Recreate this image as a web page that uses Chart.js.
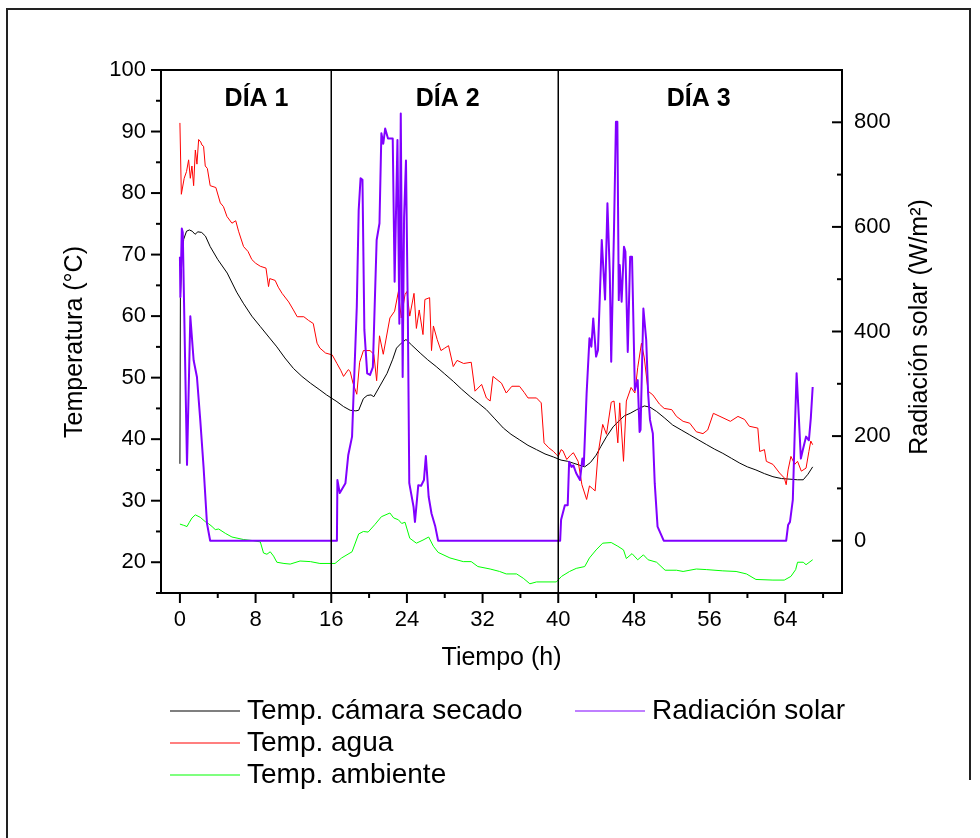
<!DOCTYPE html>
<html>
<head>
<meta charset="utf-8">
<script src="https://cdn.jsdelivr.net/npm/chart.js@4.4.0/dist/chart.umd.min.js"></script>
<style>
  html, body { margin: 0; padding: 0; background: #fff; }
  canvas { display: block; }
</style>
</head>
<body>
<canvas id="secadoChart" width="980" height="838"></canvas>
<script>
// [tiempo (h), valor]
const camaraSecado = [[0,36.0],[0.05,63],[0.2,69],[0.4,72.5],[0.7,73.8],[1.0,74.0],[1.3,73.8],[1.6,73.3],[1.9,73.7],[2.3,73.6],[2.7,73.0],[3.2,71.3],[4.0,69.2],[5.0,67.0],[6.0,63.9],[6.7,62.1],[7.6,60.0],[8.5,58.3],[9.4,56.6],[10.25,55.0],[11.1,53.2],[12.0,51.5],[12.9,50.2],[13.8,49.1],[14.8,48.0],[15.5,47.2],[16.6,46.1],[17.3,45.3],[18.0,44.7],[18.6,44.6],[18.9,44.7],[19.4,46.6],[19.8,47.1],[20.2,47.2],[20.5,46.9],[21.2,48.8],[21.9,50.7],[22.5,53.0],[22.9,54.8],[23.4,55.6],[23.9,56.2],[24.5,55.3],[25.4,54.0],[26.2,52.9],[27.1,51.8],[28.0,50.6],[28.9,49.4],[29.8,48.1],[30.7,46.9],[31.6,45.8],[32.4,44.8],[33.3,43.3],[34.2,41.8],[35.0,40.8],[35.9,39.9],[36.8,39.0],[37.7,38.3],[38.6,37.6],[39.5,37.1],[40.3,36.6],[41.0,36.4],[41.6,36.1],[42.2,35.8],[42.8,35.5],[43.4,36.2],[44.0,37.4],[44.5,38.8],[45.1,40.4],[45.8,42.0],[46.5,43.1],[47.0,43.8],[47.6,44.2],[48.3,44.8],[49.1,45.4],[49.7,45.2],[50.4,44.5],[51.2,43.5],[52.1,42.3],[53.0,41.5],[53.9,40.7],[54.8,39.9],[55.7,39.1],[56.5,38.4],[57.4,37.7],[58.3,36.9],[59.2,36.1],[60.0,35.5],[60.9,35.0],[61.8,34.4],[62.7,33.9],[63.6,33.6],[64.5,33.5],[65.3,33.4],[65.9,33.4],[66.4,34.3],[66.9,35.5]];

const tempAgua = [[0,91.4],[0.15,79.8],[0.45,82.4],[0.7,83.5],[0.92,85.4],[1.1,82.4],[1.27,84.4],[1.45,81.2],[1.63,87.0],[1.8,84.7],[1.98,88.7],[2.2,88.3],[2.33,87.8],[2.5,87.6],[2.68,84.4],[2.9,84.0],[3.2,81.2],[3.8,80.9],[4.27,78.4],[4.6,77.8],[4.97,76.2],[5.5,75.1],[5.9,75.5],[6.2,73.8],[6.73,71.3],[7.2,70.5],[7.6,69.2],[8.0,68.6],[8.5,68.1],[9.1,67.8],[9.37,64.8],[9.5,66.1],[10.07,65.8],[10.4,64.7],[10.8,63.7],[11.5,62.3],[12.0,61.0],[12.4,59.9],[13.1,59.9],[13.6,59.3],[14.1,58.8],[14.5,55.6],[14.8,54.8],[15.4,54.0],[16.1,53.7],[16.6,52.3],[17.0,51.2],[17.3,50.2],[17.8,51.3],[18.0,51.0],[18.3,49.1],[18.7,47.3],[19.0,52.5],[19.4,54.4],[20.1,54.4],[20.5,53.8],[20.8,49.5],[21.1,56.8],[21.5,53.8],[22.2,59.7],[22.7,60.8],[23.1,64.0],[23.4,59.7],[23.8,63.5],[24.0,64.0],[24.3,60.0],[24.75,63.7],[25.0,58.0],[25.3,61.0],[25.7,57.0],[25.9,62.7],[26.4,63.0],[26.6,54.4],[26.8,58.4],[27.2,56.2],[27.6,54.4],[28.0,54.8],[28.4,55.2],[28.9,51.8],[29.3,52.8],[30.0,52.3],[30.8,52.5],[31.2,47.8],[31.9,48.9],[32.4,46.7],[32.8,46.2],[33.1,50.2],[34.0,49.1],[34.5,47.5],[35.1,48.6],[35.9,48.6],[36.4,47.6],[36.8,46.7],[37.7,46.7],[38.2,45.9],[38.5,39.4],[39.0,38.6],[39.5,38.0],[39.8,37.5],[40.0,37.2],[40.3,38.3],[40.5,38.1],[40.9,36.7],[41.3,37.4],[41.6,37.8],[42.1,36.4],[42.5,32.6],[43.0,30.2],[43.3,32.4],[43.6,32.0],[43.9,31.6],[44.2,37.5],[44.7,42.4],[45.1,40.8],[45.6,46.0],[45.9,46.2],[46.3,39.4],[46.5,45.9],[46.9,36.4],[47.2,46.2],[47.7,48.4],[48.1,47.5],[48.4,51.6],[48.8,55.6],[49.1,53.2],[49.5,47.8],[50.0,47.2],[50.7,45.7],[51.2,45.0],[52.0,44.8],[52.5,43.7],[53.2,42.9],[53.9,42.6],[54.6,41.2],[55.3,40.9],[55.8,41.5],[56.4,44.2],[57.1,43.7],[58.2,42.9],[59.0,43.7],[59.7,43.2],[60.2,42.1],[61.1,41.8],[61.3,38.0],[61.8,38.3],[62.0,36.4],[62.7,35.9],[63.4,34.5],[63.9,33.7],[64.1,32.6],[64.3,35.0],[64.6,37.2],[65.0,35.9],[65.3,36.4],[65.7,34.8],[66.2,35.3],[66.5,38.0],[66.7,39.7],[66.9,39.1]];

const tempAmbiente = [[0,26.2],[0.4,26.0],[0.75,25.8],[1.0,26.5],[1.28,27.2],[1.63,27.7],[2.15,27.3],[2.68,26.6],[3.0,26.3],[3.4,25.8],[3.74,25.3],[4.1,25.4],[4.8,24.7],[5.5,24.1],[6.7,23.7],[7.8,23.5],[8.5,23.3],[8.84,21.5],[9.2,21.3],[9.55,21.7],[9.9,21.0],[10.25,20.0],[11.0,19.8],[11.66,19.7],[12.7,20.2],[13.8,20.1],[14.8,19.8],[16.4,19.8],[17.1,20.7],[18.2,21.7],[18.9,24.6],[19.4,25.0],[19.9,24.9],[20.6,26.1],[21.3,27.4],[22.2,28.0],[22.6,27.2],[23.1,26.9],[23.45,26.3],[23.8,26.5],[24.3,23.9],[25.0,23.1],[25.7,23.6],[26.3,24.1],[26.8,22.6],[27.3,21.6],[28.55,20.7],[29.96,20.1],[30.8,20.1],[31.5,19.3],[32.8,18.9],[33.8,18.5],[34.5,18.1],[35.6,18.1],[36.3,17.4],[37.0,16.5],[37.7,16.8],[39.8,16.8],[40.35,17.7],[41.2,18.5],[41.9,19.0],[42.8,19.3],[43.3,20.7],[44.0,22.0],[44.7,23.1],[45.6,23.2],[46.3,22.6],[46.9,22.0],[47.2,20.6],[47.8,21.4],[48.4,20.4],[49.0,21.2],[49.5,20.4],[50.4,20.0],[51.3,18.7],[52.5,18.7],[53.2,18.5],[54.6,18.9],[55.7,18.8],[57.4,18.6],[58.8,18.5],[59.9,18.1],[60.9,17.2],[62.7,17.1],[63.9,17.1],[64.6,17.7],[65.1,18.8],[65.3,20.0],[65.9,20.0],[66.2,19.6],[66.9,20.4]];

const radiacionSolar = [[0,543],[0.05,466],[0.2,597],[0.3,590],[0.75,145],[1.1,429],[1.45,345],[1.8,313],[2.15,231],[2.5,141],[2.86,33],[3.2,0],[16.6,0],[16.65,116],[16.9,91],[17.5,110],[17.8,164],[18.2,199],[18.3,250],[18.7,447],[18.9,632],[19.1,693],[19.3,690],[19.5,403],[19.8,320],[20.1,317],[20.4,332],[20.8,575],[21.1,607],[21.3,779],[21.5,759],[21.7,788],[22.0,769],[22.5,769],[22.7,495],[23.0,766],[23.2,415],[23.35,817],[23.55,313],[23.7,619],[23.9,727],[24.1,428],[24.25,110],[24.7,65],[24.85,36],[25.2,106],[25.5,105],[25.8,116],[26.0,162],[26.3,84],[26.6,52],[27.0,27],[27.3,0],[40.2,0],[40.3,40],[40.7,68],[41.0,68],[41.15,151],[41.4,141],[41.6,144],[41.9,129],[42.3,116],[42.55,157],[42.7,144],[43.0,282],[43.3,387],[43.5,371],[43.7,425],[44.0,352],[44.2,364],[44.6,575],[44.95,461],[45.2,645],[45.45,511],[45.6,342],[45.9,600],[46.1,801],[46.25,801],[46.4,460],[46.5,527],[46.7,457],[46.95,562],[47.1,553],[47.35,361],[47.6,543],[47.8,543],[48.1,288],[48.4,307],[48.6,208],[48.7,212],[49.0,444],[49.3,384],[49.5,282],[49.7,231],[50.0,205],[50.2,110],[50.5,27],[51.15,0],[64.1,0],[64.3,30],[64.5,36],[64.8,78],[65.0,205],[65.2,320],[65.45,231],[65.65,157],[65.85,173],[66.2,199],[66.5,192],[66.7,234],[66.9,294]];

const tiempoTicks = [0, 8, 16, 24, 32, 40, 48, 56, 64];
const tempTicks = [20, 30, 40, 50, 60, 70, 80, 90, 100];
const radTicks = [0, 200, 400, 600, 800];
const limitesDia = [16, 40];
const etiquetasDia = ['DÍA 1', 'DÍA 2', 'DÍA 3'];

const FONT = "'Liberation Sans', Arial, sans-serif";
Chart.defaults.font.family = FONT;
Chart.defaults.color = '#000';

const toPoints = arr => arr.map(([h, v]) => ({ x: h, y: v }));

// axes box, ticks, day markers, side titles and legend drawn by hand
const extras = {
    id: 'extras',
    afterDraw(chart) {
        const { ctx, chartArea: a, scales: { x, y, y2 } } = chart;
        const line = (x1, y1, x2, y2_) => { ctx.beginPath(); ctx.moveTo(x1, y1); ctx.lineTo(x2, y2_); ctx.stroke(); };
        ctx.save();
        ctx.strokeStyle = '#000';

        // day separators
        ctx.lineWidth = 1.5;
        limitesDia.forEach(h => {
            const px = x.getPixelForValue(h);
            line(px, a.top, px, a.bottom);
        });

        // frame of the plot
        ctx.lineWidth = 2;
        ctx.strokeRect(a.left, a.top, a.right - a.left, a.bottom - a.top);

        // bottom ticks (outside)
        tiempoTicks.forEach(v => {
            const px = x.getPixelForValue(v);
            line(px, a.bottom, px, a.bottom + 10);
            const pm = x.getPixelForValue(v + 4);
            if (v + 4 < x.max) line(pm, a.bottom, pm, a.bottom + 5);
        });
        // left ticks (outside)
        tempTicks.forEach(v => {
            const py = y.getPixelForValue(v);
            line(a.left - 10, py, a.left, py);
            const pm = y.getPixelForValue(v - 5);
            line(a.left - 5, pm, a.left, pm);
        });
        // right ticks (inside)
        radTicks.forEach(v => {
            const py = y2.getPixelForValue(v);
            line(a.right - 10, py, a.right, py);
            if (v + 100 < y2.max) {
                const pm = y2.getPixelForValue(v + 100);
                line(a.right - 5, pm, a.right, pm);
            }
        });

        // day labels
        ctx.fillStyle = '#000';
        ctx.font = `bold 25px ${FONT}`;
        ctx.textAlign = 'center';
        ctx.textBaseline = 'middle';
        [8.1, 28.3, 54.85].forEach((h, i) => ctx.fillText(etiquetasDia[i], x.getPixelForValue(h), 99));

        // side titles, both read bottom to top
        ctx.font = `25px ${FONT}`;
        [['Temperatura (°C)', 75, 342], ['Radiación solar (W/m²)', 920, 327]].forEach(([txt, tx, ty]) => {
            ctx.save();
            ctx.translate(tx, ty);
            ctx.rotate(-Math.PI / 2);
            ctx.fillText(txt, 0, 0);
            ctx.restore();
        });

        // legend: three rows on the left, one on the right
        const slots = [[170, 711], [170, 743], [170, 775], [575, 711]];
        ctx.font = `28px ${FONT}`;
        ctx.textAlign = 'left';
        chart.data.datasets.forEach((ds, i) => {
            const [lx, ly] = slots[i];
            ctx.strokeStyle = ds.borderColor;
            ctx.lineWidth = 1.2;
            line(lx, ly, lx + 70, ly);
            ctx.fillText(ds.label, lx + 77, ly);
        });

        // outer figure frame
        ctx.strokeStyle = '#222';
        ctx.lineWidth = 2;
        ctx.beginPath();
        ctx.moveTo(7, 838);
        ctx.lineTo(7, 9);
        ctx.lineTo(970, 9);
        ctx.lineTo(970, 780);
        ctx.stroke();

        ctx.restore();
    }
};

const ctx = document.getElementById('secadoChart').getContext('2d');
new Chart(ctx, {
    type: 'line',
    data: {
        datasets: [
            { label: 'Temp. cámara secado', data: toPoints(camaraSecado), borderColor: '#000000', borderWidth: 1, yAxisID: 'y', order: 2 },
            { label: 'Temp. agua', data: toPoints(tempAgua), borderColor: '#ff0000', borderWidth: 1, yAxisID: 'y', order: 1 },
            { label: 'Temp. ambiente', data: toPoints(tempAmbiente), borderColor: '#00ff00', borderWidth: 1, yAxisID: 'y', order: 3 },
            { label: 'Radiación solar', data: toPoints(radiacionSolar), borderColor: '#8000ff', borderWidth: 2, yAxisID: 'y2', order: 0 }
        ]
    },
    options: {
        responsive: false,
        animation: false,
        layout: { padding: { top: 70, bottom: 160, left: 0, right: 0 } },
        elements: { point: { radius: 0 }, line: { tension: 0, borderJoinStyle: 'round' } },
        plugins: { legend: { display: false }, tooltip: { enabled: false } },
        scales: {
            x: {
                type: 'linear',
                min: -2,
                max: 70,
                afterBuildTicks: s => { s.ticks = tiempoTicks.map(v => ({ value: v })); },
                afterFit: s => { s.height = 85; },
                grid: { display: false, drawTicks: true, tickLength: 10 },
                border: { display: false },
                ticks: { font: { size: 22 }, padding: 4, maxRotation: 0, autoSkip: false },
                title: { display: true, text: 'Tiempo (h)', font: { size: 25 }, padding: { top: 0, bottom: 5 } }
            },
            y: {
                position: 'left',
                min: 15,
                max: 100,
                afterBuildTicks: s => { s.ticks = tempTicks.map(v => ({ value: v })); },
                afterFit: s => { s.width = 161; },
                grid: { display: false, drawTicks: true, tickLength: 10 },
                border: { display: false },
                ticks: { font: { size: 22 }, padding: 5 }
            },
            y2: {
                position: 'right',
                min: -100,
                max: 900,
                afterBuildTicks: s => { s.ticks = radTicks.map(v => ({ value: v })); },
                afterFit: s => { s.width = 138; },
                grid: { display: false, drawTicks: false },
                border: { display: false },
                ticks: { font: { size: 22 }, padding: 12 }
            }
        }
    },
    plugins: [extras]
});
</script>
</body>
</html>
